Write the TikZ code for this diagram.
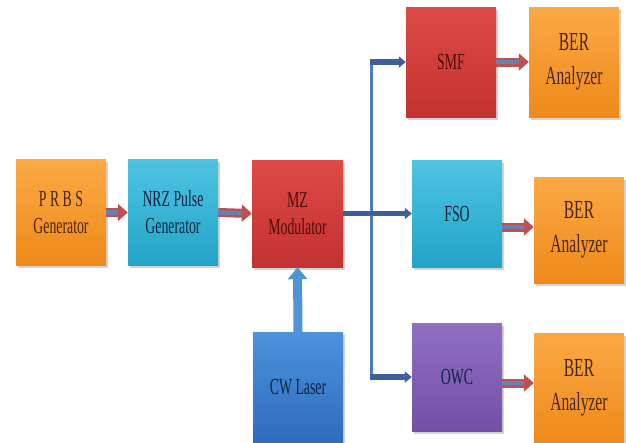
\documentclass[tikz,border=0pt]{standalone}
\usepackage{fontspec}
\newfontfamily\condserif[FakeStretch=0.6]{Liberation Serif}
\usetikzlibrary{arrows.meta,shadows,calc}
\definecolor{orT}{HTML}{FBA945}
\definecolor{orB}{HTML}{EE8A1A}
\definecolor{cyT}{HTML}{4EC4E2}
\definecolor{cyB}{HTML}{22A4C6}
\definecolor{rdT}{HTML}{DE4B47}
\definecolor{rdB}{HTML}{C23230}
\definecolor{blT}{HTML}{4C92DC}
\definecolor{blB}{HTML}{2E6DBD}
\definecolor{puT}{HTML}{9070C2}
\definecolor{puB}{HTML}{7350A5}
\definecolor{arRed}{HTML}{C0504D}
\definecolor{arFill}{HTML}{6C7FB0}
\definecolor{dkBlue}{HTML}{3D5F9C}
\definecolor{ltLine}{HTML}{4A7CC4}
\definecolor{cwArrow}{HTML}{4D95D6}
\definecolor{txOr}{HTML}{4A2608}
\definecolor{txBl}{HTML}{0E2240}
\definecolor{txRd}{HTML}{4E0C0C}
\begin{document}
\begin{tikzpicture}[x=1pt,y=-1pt,
  blk/.style={minimum width=90pt, minimum height=106pt, inner sep=0pt, align=center,
    font=\condserif\fontsize{23}{27}\selectfont,
    drop shadow={shadow xshift=2pt, shadow yshift=-2.5pt, opacity=0.35}},
  orbox/.style={blk, top color=orT, bottom color=orB, text=txOr},
  cybox/.style={blk, top color=cyT, bottom color=cyB, text=txBl},
  rdbox/.style={blk, top color=rdT, bottom color=rdB, text=txRd},
  blbox/.style={blk, top color=blT, bottom color=blB, text=txBl},
  pubox/.style={blk, top color=puT, bottom color=puB, text=txBl},
  berfont/.style={font=\condserif\fontsize{26}{34}\selectfont},
  redarrow/.style={draw=arRed, line width=9pt, -{Triangle[length=10pt,width=17pt]}},
  redinner/.style={draw=arFill, line width=4.5pt, shorten >=10pt},
  bluearrow/.style={draw=dkBlue, line width=5.5pt, -{Triangle[length=7pt,width=11pt]}},
  thinline/.style={draw=ltLine, line width=3pt},
  cwarrow/.style={draw=cwArrow, line width=9pt, -{Triangle[length=12pt,width=19pt]}}
]
\useasboundingbox (0,0) rectangle (626,442);

\node[orbox] (prbs) at (61,212.5) {P R B S\\Generator};
\node[cybox] (nrz) at (173,212.5) {NRZ Pulse\\Generator};
\node[rdbox, minimum height=107pt, minimum width=91pt] (mz) at (297.5,213.5) {MZ\\Modulator};
\node[blbox, minimum height=110pt] (cw) at (298,387) {CW Laser};
\node[rdbox, minimum height=110pt] (smf) at (451,62) {SMF};
\node[orbox, berfont, minimum height=110pt] (ber1) at (574,62) {BER\\Analyzer};
\node[cybox, minimum height=107pt] (fso) at (457,213.5) {FSO};
\node[orbox, berfont] (ber2) at (579,230) {BER\\Analyzer};
\node[pubox, minimum height=108pt] (owc) at (457,377) {OWC};
\node[orbox, berfont, minimum height=110pt] (ber3) at (579,388) {BER\\Analyzer};

% red/blue block arrows
\draw[redarrow] (prbs.east) -- (nrz.west);
\draw[redinner] (prbs.east) -- (nrz.west);
\draw[redarrow] (nrz.east) -- (mz.west);
\draw[redinner] (nrz.east) -- (mz.west);
\draw[redarrow] (smf.east) -- (ber1.west);
\draw[redinner] (smf.east) -- (ber1.west);
\coordinate (f2) at ($(fso.east |- ber2.west)+(0,-3)$);
\draw[redarrow] (f2) -- (f2 -| ber2.west);
\draw[redinner] (f2) -- (f2 -| ber2.west);
\coordinate (o3) at ($(owc.east |- ber3.west)+(0,-5)$);
\draw[redarrow] (o3) -- (o3 -| ber3.west);
\draw[redinner] (o3) -- (o3 -| ber3.west);

% CW laser to modulator
\draw[cwarrow] (cw.north) -- (mz.south);

% splitter
\coordinate (split) at (371,213.5);
\draw[thinline] (split |- smf.west) -- (split |- owc.west);
\draw[bluearrow] (mz.east) -- (fso.west);
\draw[bluearrow] ($(split |- smf.west)+(-1.5,0)$) -- (smf.west);
\draw[bluearrow] ($(split |- owc.west)+(-1.5,0)$) -- (owc.west);
\end{tikzpicture}
\end{document}
